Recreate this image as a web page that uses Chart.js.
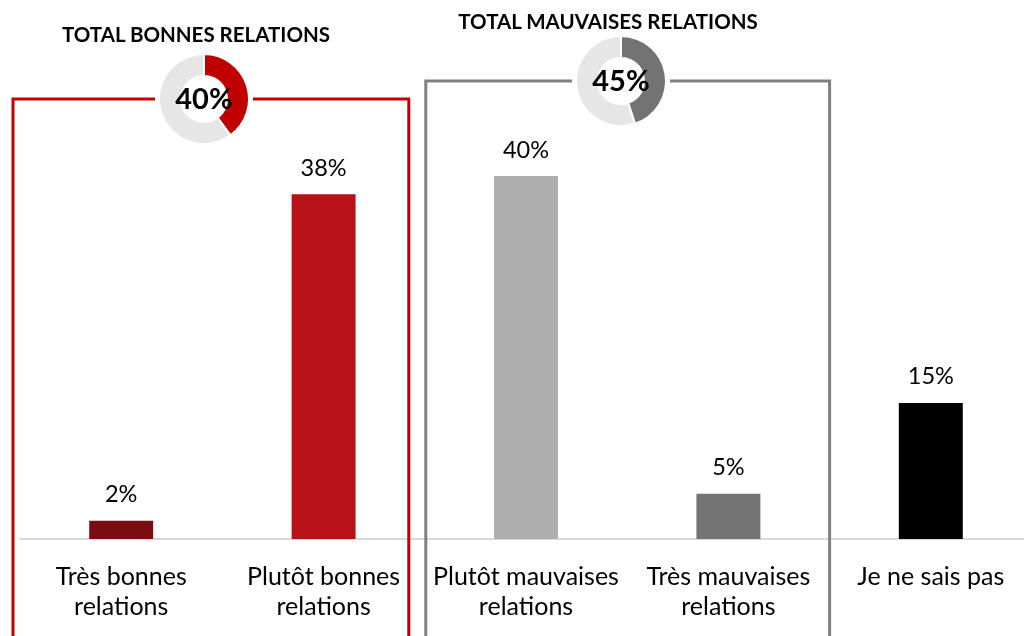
<!DOCTYPE html>
<html>
<head>
<meta charset="utf-8">
<script src="https://cdn.jsdelivr.net/npm/chart.js@4.4.1/dist/chart.umd.min.js"></script>
<style>
  html, body { margin: 0; padding: 0; background: #fff; overflow: hidden; }
  #wrap { position: relative; width: 1024px; height: 636px; overflow: hidden; }
  #barBox { position: absolute; left: 0; top: 0; width: 1040px; height: 636px; }
  .donut { position: absolute; width: 100px; height: 100px; }
  .title { position: absolute; font: bold 20.5px Lato, sans-serif; color: #000; white-space: nowrap; transform: translate(-50%, -50%); }
</style>
</head>
<body>
<div id="wrap">
  <div id="barBox"><canvas id="bars"></canvas></div>
  <canvas class="donut" id="donutGood" width="100" height="100" style="left:154px;top:49px"></canvas>
  <canvas class="donut" id="donutBad" width="100" height="100" style="left:571px;top:31px"></canvas>
  <div class="title" id="titleGood" style="left:196px;top:34px"></div>
  <div class="title" id="titleBad" style="left:608px;top:21px"></div>
</div>
<script>
// data
const categories = [
  ['Très bonnes', 'relations'],
  ['Plutôt bonnes', 'relations'],
  ['Plutôt mauvaises', 'relations'],
  ['Très mauvaises', 'relations'],
  'Je ne sais pas'
];
const values = [2, 38, 40, 5, 15];
const barColors = ['#7b0c10', '#b91118', '#adadad', '#737373', '#000000'];
const totalTitles = ['TOTAL BONNES RELATIONS', 'TOTAL MAUVAISES RELATIONS'];
const totals = [40, 45];
const totalColors = ['#c00000', '#737373'];

const FONT = 'Lato, sans-serif';

// value labels above bars
const valueLabels = {
  id: 'valueLabels',
  afterDatasetsDraw(chart) {
    const ctx = chart.ctx;
    const meta = chart.getDatasetMeta(0);
    ctx.save();
    ctx.font = '23.5px ' + FONT;
    ctx.fillStyle = '#000';
    ctx.textAlign = 'center';
    ctx.textBaseline = 'middle';
    meta.data.forEach(function(bar, i) {
      ctx.fillText(values[i] + '%', bar.x, bar.y - 26);
    });
    ctx.restore();
  }
};

// the two frames round the good / bad groups
const groupBoxes = {
  id: 'groupBoxes',
  afterDraw(chart) {
    const x = chart.scales.x;
    const half = (x.getPixelForValue(1) - x.getPixelForValue(0)) / 2;
    const bottom = chart.height + 10;
    const boxes = [
      { left: x.getPixelForValue(0) - half - 7, right: x.getPixelForValue(1) + half - 16, top: 99, color: totalColors[0] },
      { left: x.getPixelForValue(2) - half + 1, right: x.getPixelForValue(3) + half, top: 81, color: '#808080' }
    ];
    const ctx = chart.ctx;
    ctx.save();
    ctx.lineWidth = 3;
    boxes.forEach(function(b) {
      ctx.strokeStyle = b.color;
      ctx.beginPath();
      ctx.moveTo(b.left, bottom);
      ctx.lineTo(b.left, b.top);
      ctx.lineTo(b.right, b.top);
      ctx.lineTo(b.right, bottom);
      ctx.stroke();
    });
    ctx.restore();
  }
};

new Chart(document.getElementById('bars'), {
  type: 'bar',
  data: {
    labels: categories,
    datasets: [{
      data: values,
      backgroundColor: barColors,
      barPercentage: 0.316,
      categoryPercentage: 1
    }]
  },
  options: {
    responsive: true,
    maintainAspectRatio: false,
    animation: false,
    events: [],
    layout: { padding: { left: 20, right: 8, top: 0, bottom: 0 } },
    scales: {
      y: { display: false, min: 0, max: 59.4 },
      x: {
        grid: { display: false },
        border: { color: '#d9d9d9', width: 2 },
        ticks: {
          color: '#000',
          font: { family: FONT, size: 25, lineHeight: 1.2 },
          padding: 15,
          maxRotation: 0,
          autoSkip: false
        },
        afterFit: function(scale) { scale.height = 97; }
      }
    },
    plugins: { legend: { display: false }, tooltip: { enabled: false } }
  },
  plugins: [valueLabels, groupBoxes]
});

// white disc behind the donut, cuts the frame line
const donutBg = {
  id: 'donutBg',
  beforeDraw(chart) {
    const ctx = chart.ctx;
    ctx.save();
    ctx.fillStyle = '#fff';
    ctx.beginPath();
    ctx.arc(chart.width / 2, chart.height / 2, 49, 0, Math.PI * 2);
    ctx.fill();
    ctx.restore();
  }
};

const donutCenter = {
  id: 'donutCenter',
  afterDraw(chart) {
    const ctx = chart.ctx;
    ctx.save();
    ctx.font = 'bold 29px ' + FONT;
    ctx.fillStyle = '#000';
    ctx.textAlign = 'center';
    ctx.textBaseline = 'middle';
    ctx.fillText(chart.data.datasets[0].data[0] + '%', chart.width / 2, chart.height / 2 + 1);
    ctx.restore();
  }
};

function makeDonut(id, total, color) {
  return new Chart(document.getElementById(id), {
    type: 'doughnut',
    data: {
      labels: ['total', 'reste'],
      datasets: [{
        data: [total, 100 - total],
        backgroundColor: [color, '#e6e6e6'],
        borderColor: '#fff',
        borderWidth: 2
      }]
    },
    options: {
      responsive: false,
      animation: false,
      events: [],
      cutout: '51%',
      layout: { padding: 4 },
      plugins: { legend: { display: false }, tooltip: { enabled: false } }
    },
    plugins: [donutBg, donutCenter]
  });
}

makeDonut('donutGood', totals[0], totalColors[0]);
makeDonut('donutBad', totals[1], totalColors[1]);
document.getElementById('titleGood').textContent = totalTitles[0];
document.getElementById('titleBad').textContent = totalTitles[1];
</script>
</body>
</html>
